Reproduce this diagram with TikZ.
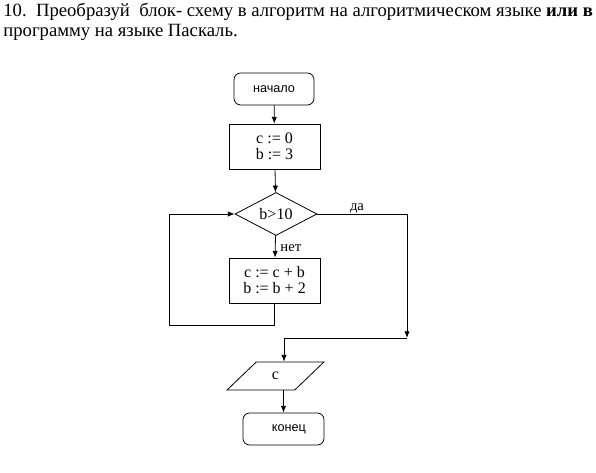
\documentclass[tikz,border=0pt]{standalone}
\usepackage{fontspec}
\setmainfont{Liberation Serif}
\setsansfont{Liberation Sans}
\usetikzlibrary{shapes.geometric,arrows.meta}
\begin{document}
\begin{tikzpicture}[x=0.75pt,y=-0.75pt,
  line width=0.6pt,
  arr/.style={-{Latex[length=5pt,width=4pt]}},
  term/.style={draw,rounded corners=5pt,inner sep=0pt,font=\sffamily\fontsize{9.5}{11}\selectfont},
  proc/.style={draw,inner sep=0pt,align=center,font=\fontsize{12}{12}\selectfont,minimum width=68.25pt,minimum height=33.75pt},
  cond/.style={draw,diamond,aspect=1.9,inner sep=1pt,minimum width=61.5pt,minimum height=32.25pt,font=\fontsize{12}{12}\selectfont},
  io/.style={draw,trapezium,trapezium left angle=55,trapezium right angle=125,trapezium stretches=true,minimum width=72.75pt,minimum height=21pt,inner sep=0pt,font=\fontsize{12}{12}\selectfont},
  lbl/.style={inner sep=0pt,anchor=base,font=\fontsize{11}{11}\selectfont}
]
\useasboundingbox (0,0) rectangle (596,473);
\node[anchor=base west,inner sep=0pt,font=\fontsize{14}{16}\selectfont] (t1) at (3,17) {10.\ \ Преобразуй\ \ блок- схему в алгоритм на алгоритмическом языке \textbf{или в}};
\node[anchor=base west,inner sep=0pt,font=\fontsize{14}{16}\selectfont] (t2) at (3,37) {программу на языке Паскаль.};

\node[term,minimum width=60pt,minimum height=24pt] (start) at (274,89) {начало};
\node[proc] (b1) at (274.5,146.5) {c := 0\\b := 3};
\node[cond] (dia) at (276,214) {b>10};
\node[proc] (b2) at (274.5,280.5) {c := c + b\\b := b + 2};
\node[io] (par) at (275.5,376) {c};
\node[term,minimum width=60.75pt,minimum height=24pt] (end) at (283.5,429) {\hspace*{8pt}конец};

\node[lbl] (yes) at (357,211) {да};
\node[lbl,anchor=base west] (no) at (280,252) {нет};

\coordinate (lb) at (169,325);
\coordinate (ry) at (407,338);
\coordinate (j) at (284,338);

\draw[arr] (start) -- (b1);
\draw[arr] (b1) -- (dia);
\draw[arr] (dia) -- (b2);
\draw[arr] (b2.south) |- (lb) |- (dia.west);
\draw[arr] (dia.east) -| (ry);
\draw (ry) -- (j);
\draw[arr] (j) -- (j |- par.north);
\draw[arr] (end.north |- par.south) -- (end.north);
\end{tikzpicture}
\end{document}
